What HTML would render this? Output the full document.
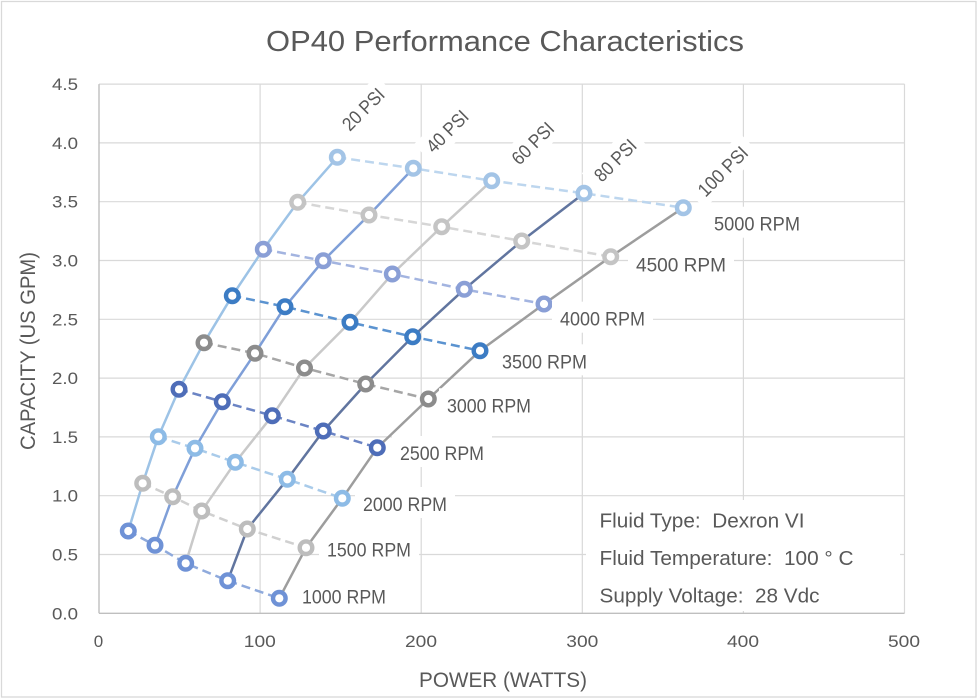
<!DOCTYPE html>
<html>
<head>
<meta charset="utf-8">
<style>
  html, body { margin: 0; padding: 0; background: #ffffff; }
  svg { display: block; }
  text { font-family: "Liberation Sans", "DejaVu Sans", sans-serif; fill: #595959; }
  .pre { white-space: pre; }
</style>
</head>
<body>
<svg width="978" height="699" viewBox="0 0 978 699" xmlns="http://www.w3.org/2000/svg">
  <rect x="0" y="0" width="978" height="699" fill="#ffffff"/>
  <rect x="1.5" y="1.5" width="974.5" height="695.5" fill="none" stroke="#d9d9d9" stroke-width="1.3"/>

  <!-- Title -->
  <text x="266" y="51" font-size="29" textLength="478" lengthAdjust="spacingAndGlyphs">OP40 Performance Characteristics</text>

  <!-- Gridlines -->
  <g stroke="#d9d9d9" stroke-width="1.2" fill="none">
    <line x1="99" y1="554.5" x2="904.5" y2="554.5"/>
    <line x1="99" y1="495.7" x2="904.5" y2="495.7"/>
    <line x1="99" y1="436.9" x2="904.5" y2="436.9"/>
    <line x1="99" y1="378.1" x2="904.5" y2="378.1"/>
    <line x1="99" y1="319.3" x2="904.5" y2="319.3"/>
    <line x1="99" y1="260.5" x2="904.5" y2="260.5"/>
    <line x1="99" y1="201.7" x2="904.5" y2="201.7"/>
    <line x1="99" y1="142.9" x2="904.5" y2="142.9"/>
    <line x1="99" y1="84.1" x2="904.5" y2="84.1"/>
    <line x1="260.1" y1="84.1" x2="260.1" y2="613.3"/>
    <line x1="421.2" y1="84.1" x2="421.2" y2="613.3"/>
    <line x1="582.3" y1="84.1" x2="582.3" y2="613.3"/>
    <line x1="743.4" y1="84.1" x2="743.4" y2="613.3"/>
    <line x1="904.5" y1="84.1" x2="904.5" y2="613.3"/>
  </g>
  <g stroke="#bfbfbf" stroke-width="1.4" fill="none">
    <line x1="99" y1="84.1" x2="99" y2="613.3"/>
    <line x1="99" y1="613.3" x2="904.5" y2="613.3"/>
  </g>

  <!-- Y tick labels -->
  <g font-size="17" text-anchor="end">
    <text x="78" y="619.3" textLength="26" lengthAdjust="spacingAndGlyphs">0.0</text>
    <text x="78" y="560.5" textLength="26" lengthAdjust="spacingAndGlyphs">0.5</text>
    <text x="78" y="501.7" textLength="26" lengthAdjust="spacingAndGlyphs">1.0</text>
    <text x="78" y="442.9" textLength="26" lengthAdjust="spacingAndGlyphs">1.5</text>
    <text x="78" y="384.1" textLength="26" lengthAdjust="spacingAndGlyphs">2.0</text>
    <text x="78" y="325.3" textLength="26" lengthAdjust="spacingAndGlyphs">2.5</text>
    <text x="78" y="266.5" textLength="26" lengthAdjust="spacingAndGlyphs">3.0</text>
    <text x="78" y="207.7" textLength="26" lengthAdjust="spacingAndGlyphs">3.5</text>
    <text x="78" y="148.9" textLength="26" lengthAdjust="spacingAndGlyphs">4.0</text>
    <text x="78" y="90.1" textLength="26" lengthAdjust="spacingAndGlyphs">4.5</text>
  </g>

  <!-- X tick labels -->
  <g font-size="17" text-anchor="middle">
    <text x="98.5" y="647">0</text>
    <text x="259.8" y="647" textLength="32" lengthAdjust="spacingAndGlyphs">100</text>
    <text x="421" y="647" textLength="32" lengthAdjust="spacingAndGlyphs">200</text>
    <text x="582.3" y="647" textLength="32" lengthAdjust="spacingAndGlyphs">300</text>
    <text x="743" y="647" textLength="32" lengthAdjust="spacingAndGlyphs">400</text>
    <text x="904" y="647" textLength="32" lengthAdjust="spacingAndGlyphs">500</text>
  </g>

  <!-- Axis titles -->
  <text x="503" y="687" font-size="21" text-anchor="middle" textLength="168" lengthAdjust="spacingAndGlyphs">POWER (WATTS)</text>
  <text transform="translate(35,351) rotate(-90)" x="0" y="0" font-size="21.5" text-anchor="middle" textLength="198" lengthAdjust="spacingAndGlyphs">CAPACITY (US GPM)</text>

  <!-- PSI solid lines -->
  <g fill="none" stroke-width="2.5" stroke-linejoin="round" stroke-linecap="round">
    <polyline stroke="#9dc3e6" points="128.3,531 142.7,483.3 158.3,436.7 179,389.3 204,342.7 232.3,295.7 263.3,249.3 297.7,202.3 337.3,157.3"/>
    <polyline stroke="#7f9fd8" points="155,545.3 172.7,496.7 195,448.3 222.3,401.7 255,353.3 285,306.7 323.3,260.7 369,215 413.3,168.3"/>
    <polyline stroke="#c9c9c9" points="185.7,563.3 201.7,511 235.3,462.3 272.3,415.7 304.5,368 350,322.3 392.3,274 441.7,226.7 491.7,180.7"/>
    <polyline stroke="#61759f" points="227.7,580.7 247.3,529 287.3,479.3 323.3,431 365.7,384 412.7,336.7 464.3,289.3 521.7,241 584,193.3"/>
    <polyline stroke="#9d9d9d" points="279.3,598.3 306,547.7 342.3,498.3 377.3,447.7 428.3,399 480,350.7 544,304 610.7,256.7 683.3,207.7"/>
  </g>

  <!-- RPM dashed lines -->
  <g fill="none" stroke-width="2.5" stroke-dasharray="9 5">
    <polyline stroke="#8faadc" points="128.3,531 155,545.3 185.7,563.3 227.7,580.7 279.3,598.3"/>
    <polyline stroke="#d0d0d0" points="142.7,483.3 172.7,496.7 201.7,511 247.3,529 306,547.7"/>
    <polyline stroke="#a9cbea" points="158.3,436.7 195,448.3 235.3,462.3 287.3,479.3 342.3,498.3"/>
    <polyline stroke="#6b84c4" points="179,389.3 222.3,401.7 272.3,415.7 323.3,431 377.3,447.7"/>
    <polyline stroke="#a6a6a6" points="204,342.7 255,353.3 304.5,368 365.7,384 428.3,399"/>
    <polyline stroke="#5b93d0" points="232.3,295.7 285,306.7 350,322.3 412.7,336.7 480,350.7"/>
    <polyline stroke="#a3b4e0" points="263.3,249.3 323.3,260.7 392.3,274 464.3,289.3 544,304"/>
    <polyline stroke="#d6d6d6" points="297.7,202.3 369,215 441.7,226.7 521.7,241 610.7,256.7"/>
    <polyline stroke="#bdd6ee" points="337.3,157.3 413.3,168.3 491.7,180.7 584,193.3 683.3,207.7"/>
  </g>

  <!-- Markers -->
  <g fill="#ffffff" stroke-width="4.4">
    <g stroke="#6f92d6">
      <circle cx="128.3" cy="531" r="6.3"/><circle cx="155" cy="545.3" r="6.3"/><circle cx="185.7" cy="563.3" r="6.3"/><circle cx="227.7" cy="580.7" r="6.3"/><circle cx="279.3" cy="598.3" r="6.3"/>
    </g>
    <g stroke="#bdbdbd">
      <circle cx="142.7" cy="483.3" r="6.3"/><circle cx="172.7" cy="496.7" r="6.3"/><circle cx="201.7" cy="511" r="6.3"/><circle cx="247.3" cy="529" r="6.3"/><circle cx="306" cy="547.7" r="6.3"/>
    </g>
    <g stroke="#8dbbe6">
      <circle cx="158.3" cy="436.7" r="6.3"/><circle cx="195" cy="448.3" r="6.3"/><circle cx="235.3" cy="462.3" r="6.3"/><circle cx="287.3" cy="479.3" r="6.3"/><circle cx="342.3" cy="498.3" r="6.3"/>
    </g>
    <g stroke="#4e6db8">
      <circle cx="179" cy="389.3" r="6.3"/><circle cx="222.3" cy="401.7" r="6.3"/><circle cx="272.3" cy="415.7" r="6.3"/><circle cx="323.3" cy="431" r="6.3"/><circle cx="377.3" cy="447.7" r="6.3"/>
    </g>
    <g stroke="#8c8c8c">
      <circle cx="204" cy="342.7" r="6.3"/><circle cx="255" cy="353.3" r="6.3"/><circle cx="304.5" cy="368" r="6.3"/><circle cx="365.7" cy="384" r="6.3"/><circle cx="428.3" cy="399" r="6.3"/>
    </g>
    <g stroke="#3c7cc4">
      <circle cx="232.3" cy="295.7" r="6.3"/><circle cx="285" cy="306.7" r="6.3"/><circle cx="350" cy="322.3" r="6.3"/><circle cx="412.7" cy="336.7" r="6.3"/><circle cx="480" cy="350.7" r="6.3"/>
    </g>
    <g stroke="#8a9fd6">
      <circle cx="263.3" cy="249.3" r="6.3"/><circle cx="323.3" cy="260.7" r="6.3"/><circle cx="392.3" cy="274" r="6.3"/><circle cx="464.3" cy="289.3" r="6.3"/><circle cx="544" cy="304" r="6.3"/>
    </g>
    <g stroke="#c4c4c4">
      <circle cx="297.7" cy="202.3" r="6.3"/><circle cx="369" cy="215" r="6.3"/><circle cx="441.7" cy="226.7" r="6.3"/><circle cx="521.7" cy="241" r="6.3"/><circle cx="610.7" cy="256.7" r="6.3"/>
    </g>
    <g stroke="#a3c4e6">
      <circle cx="337.3" cy="157.3" r="6.3"/><circle cx="413.3" cy="168.3" r="6.3"/><circle cx="491.7" cy="180.7" r="6.3"/><circle cx="584" cy="193.3" r="6.3"/><circle cx="683.3" cy="207.7" r="6.3"/>
    </g>
  </g>

  <!-- RPM labels with white boxes -->
  <g fill="#ffffff">
    <rect x="706" y="206.7" width="102" height="31"/>
    <rect x="628" y="247.7" width="106" height="31"/>
    <rect x="552" y="301.7" width="101" height="31"/>
    <rect x="494" y="344.3" width="101" height="31"/>
    <rect x="439" y="388.3" width="100" height="31"/>
    <rect x="392" y="436" width="100" height="31"/>
    <rect x="355" y="487" width="100" height="31"/>
    <rect x="319" y="532.7" width="100" height="31"/>
    <rect x="294" y="579.3" width="100" height="32"/>
  </g>
  <g font-size="19">
    <text x="714" y="230.7" textLength="86" lengthAdjust="spacingAndGlyphs">5000 RPM</text>
    <text x="636" y="271.7" textLength="90" lengthAdjust="spacingAndGlyphs">4500 RPM</text>
    <text x="560" y="325.7" textLength="85" lengthAdjust="spacingAndGlyphs">4000 RPM</text>
    <text x="502" y="368.3" textLength="85" lengthAdjust="spacingAndGlyphs">3500 RPM</text>
    <text x="447" y="412.3" textLength="84" lengthAdjust="spacingAndGlyphs">3000 RPM</text>
    <text x="400" y="460" textLength="84" lengthAdjust="spacingAndGlyphs">2500 RPM</text>
    <text x="363" y="511" textLength="84" lengthAdjust="spacingAndGlyphs">2000 RPM</text>
    <text x="327" y="556.7" textLength="84" lengthAdjust="spacingAndGlyphs">1500 RPM</text>
    <text x="302" y="603.3" textLength="84" lengthAdjust="spacingAndGlyphs">1000 RPM</text>
  </g>

  <!-- PSI labels rotated -->
  <g font-size="19" text-anchor="middle">
    <g transform="translate(363,109) rotate(-45)">
      <rect x="-33" y="-14" width="66" height="28" fill="#ffffff"/>
      <text x="0" y="7" textLength="51" lengthAdjust="spacingAndGlyphs">20 PSI</text>
    </g>
    <g transform="translate(447,131) rotate(-45)">
      <rect x="-33" y="-14" width="66" height="28" fill="#ffffff"/>
      <text x="0" y="7" textLength="51" lengthAdjust="spacingAndGlyphs">40 PSI</text>
    </g>
    <g transform="translate(532.5,143) rotate(-45)">
      <rect x="-33" y="-14" width="66" height="28" fill="#ffffff"/>
      <text x="0" y="7" textLength="51" lengthAdjust="spacingAndGlyphs">60 PSI</text>
    </g>
    <g transform="translate(615,160) rotate(-45)">
      <rect x="-33" y="-14" width="66" height="28" fill="#ffffff"/>
      <text x="0" y="7" textLength="51" lengthAdjust="spacingAndGlyphs">80 PSI</text>
    </g>
    <g transform="translate(722.5,171) rotate(-45)">
      <rect x="-39" y="-14" width="78" height="28" fill="#ffffff"/>
      <text x="0" y="7" textLength="62" lengthAdjust="spacingAndGlyphs">100 PSI</text>
    </g>
  </g>

  <!-- Info box -->
  <rect x="586" y="500" width="314" height="111" fill="#ffffff"/>
  <g font-size="20">
    <text class="pre" x="599.5" y="527.7" textLength="205" lengthAdjust="spacingAndGlyphs">Fluid Type:  Dexron VI</text>
    <text class="pre" x="599.5" y="565" textLength="254" lengthAdjust="spacingAndGlyphs">Fluid Temperature:  100 ° C</text>
    <text class="pre" x="599.5" y="602.3" textLength="220" lengthAdjust="spacingAndGlyphs">Supply Voltage:  28 Vdc</text>
  </g>
</svg>
</body>
</html>
